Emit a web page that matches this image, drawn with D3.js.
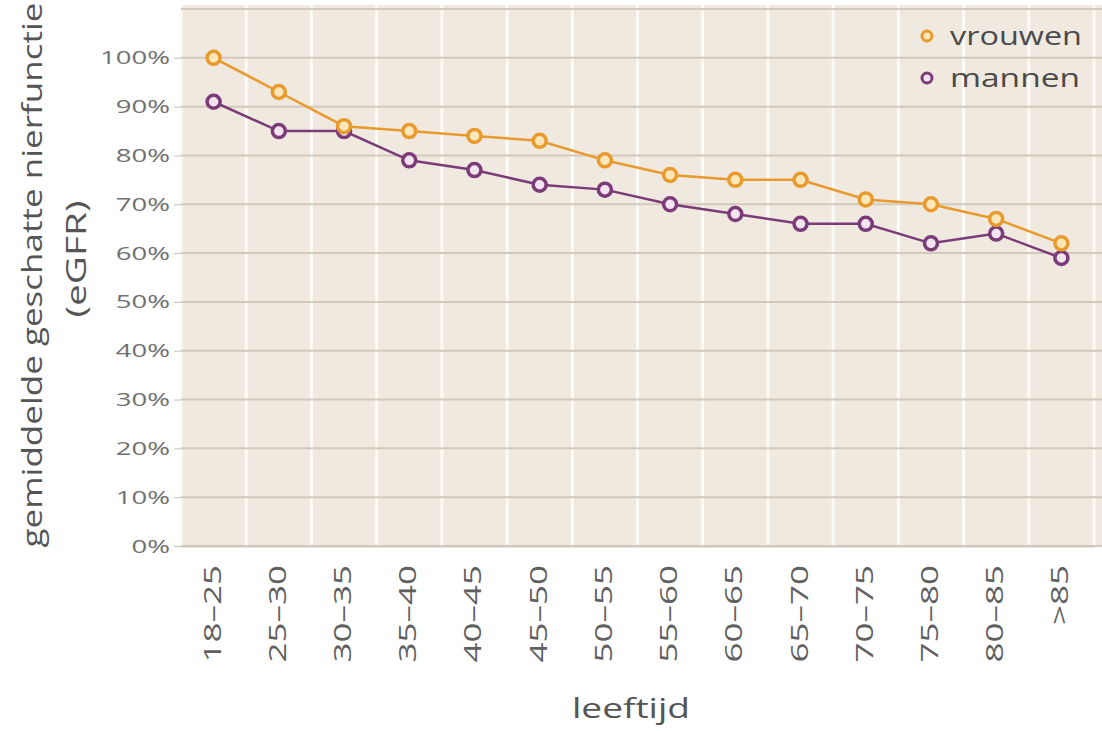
<!DOCTYPE html>
<html><head><meta charset="utf-8">
<script src="https://cdn.jsdelivr.net/npm/d3@7"></script>
<style>body{margin:0;background:#fff}svg{display:block}text{font-family:"Open Sans",sans-serif}</style>
</head><body><svg id="c" width="1102" height="731"></svg>
<script>
const categories = ["18–25","25–30","30–35","35–40","40–45","45–50","50–55","55–60","60–65","65–70","70–75","75–80","80–85",">85"];
const vrouwen = [100,93,86,85,84,83,79,76,75,75,71,70,67,62];
const mannen  = [91,85,85,79,77,74,73,70,68,66,66,62,64,59];
const yTicks = [0,10,20,30,40,50,60,70,80,90,100];
const seriesNames = ["vrouwen","mannen"];
const seriesColors = ["#e89a2c","#7b3a78"];
const seriesFills = ["#fbe7b8","#f3e4ef"];

(function(){
const svg = d3.select("#c");
const pLeft = 181, pRight = 1094, pTop = 9, pBottom = 546;
const x = d3.scaleBand().domain(categories).range([pLeft, pRight]);
const y = d3.scaleLinear().domain([0,110]).range([pBottom, pTop]);

svg.append("rect").attr("x",pLeft).attr("y",y(110)-4).attr("width",1102-pLeft).attr("height",pBottom-y(110)+4).attr("fill","#efe9e0");
svg.append("g").selectAll("line").data(categories.concat(["_end"])).join("line")
  .attr("x1",(d,i)=>pLeft+i*x.bandwidth()).attr("x2",(d,i)=>pLeft+i*x.bandwidth())
  .attr("y1",y(110)-4).attr("y2",pBottom).attr("stroke","#fdfbf6").attr("stroke-width",3);
svg.append("g").selectAll("line").data(yTicks.concat([110])).join("line")
  .attr("x1",pLeft).attr("x2",1102).attr("y1",d=>y(d)).attr("y2",d=>y(d))
  .attr("stroke","#d3cabd").attr("stroke-width",2);
const yAxis = d3.axisLeft(y).tickValues(yTicks).tickFormat(d=>d+"%").tickSize(7).tickPadding(4);
const ga = svg.append("g").attr("transform",`translate(${pLeft},0)`).call(yAxis);
ga.select(".domain").remove();
ga.selectAll("line").attr("stroke","#c8c0b4");
ga.selectAll("text").attr("font-size",19).attr("fill","#707070").attr("font-family","'Open Sans',sans-serif")
  .attr("x",0).attr("transform","translate(-11,0) scale(1.45,1)");
const xAxis = d3.axisBottom(x).tickSize(0).tickPadding(0);
const gx = svg.append("g").attr("transform",`translate(0,${pBottom})`).call(xAxis);
gx.select(".domain").attr("stroke","#cfc7bb").attr("stroke-width",2);
gx.selectAll("text").attr("font-size",23).attr("fill","#606060").attr("font-family","'Open Sans',sans-serif")
  .attr("text-anchor","end").attr("dy",null)
  .attr("transform","translate(7,19) rotate(-90) scale(1.52,1)").attr("x",0).attr("y",0);

const data = [vrouwen, mannen];
const line = d3.line().x((d,i)=>x(categories[i])+x.bandwidth()/2).y(d=>y(d));
[1,0].forEach(s=>{
  svg.append("path").attr("d",line(data[s])).attr("fill","none").attr("stroke",seriesColors[s]).attr("stroke-width",2.5);
});
[1,0].forEach(s=>{
  svg.append("g").selectAll("circle").data(data[s]).join("circle")
    .attr("cx",(d,i)=>x(categories[i])+x.bandwidth()/2).attr("cy",d=>y(d)).attr("r",6.5)
    .attr("fill",seriesFills[s]).attr("stroke",seriesColors[s]).attr("stroke-width",3.5);
});
seriesNames.forEach((n,i)=>{
  const ly = 36 + i*42;
  svg.append("circle").attr("cx",927).attr("cy",ly).attr("r",5).attr("fill",seriesFills[i]).attr("stroke",seriesColors[i]).attr("stroke-width",3);
  svg.append("text").attr("x",950).attr("y",ly).attr("dy","0.35em").attr("font-size",26).attr("fill","#4a4a4a")
    .attr("textLength", i===0?132:130).attr("lengthAdjust","spacingAndGlyphs").text(n);
});
svg.append("text").attr("transform","translate(42,275) rotate(-90)").attr("text-anchor","middle")
  .attr("font-size",27).attr("fill","#555").attr("textLength",545).attr("lengthAdjust","spacingAndGlyphs").text("gemiddelde geschatte nierfunctie");
svg.append("text").attr("transform","translate(86,259) rotate(-90)").attr("text-anchor","middle")
  .attr("font-size",27).attr("fill","#555").attr("textLength",117).attr("lengthAdjust","spacingAndGlyphs").text("(eGFR)");
svg.append("text").attr("x",631).attr("y",718).attr("text-anchor","middle").attr("font-size",28).attr("fill","#555")
  .attr("textLength",118).attr("lengthAdjust","spacingAndGlyphs").text("leeftijd");
})();
</script></body></html>
